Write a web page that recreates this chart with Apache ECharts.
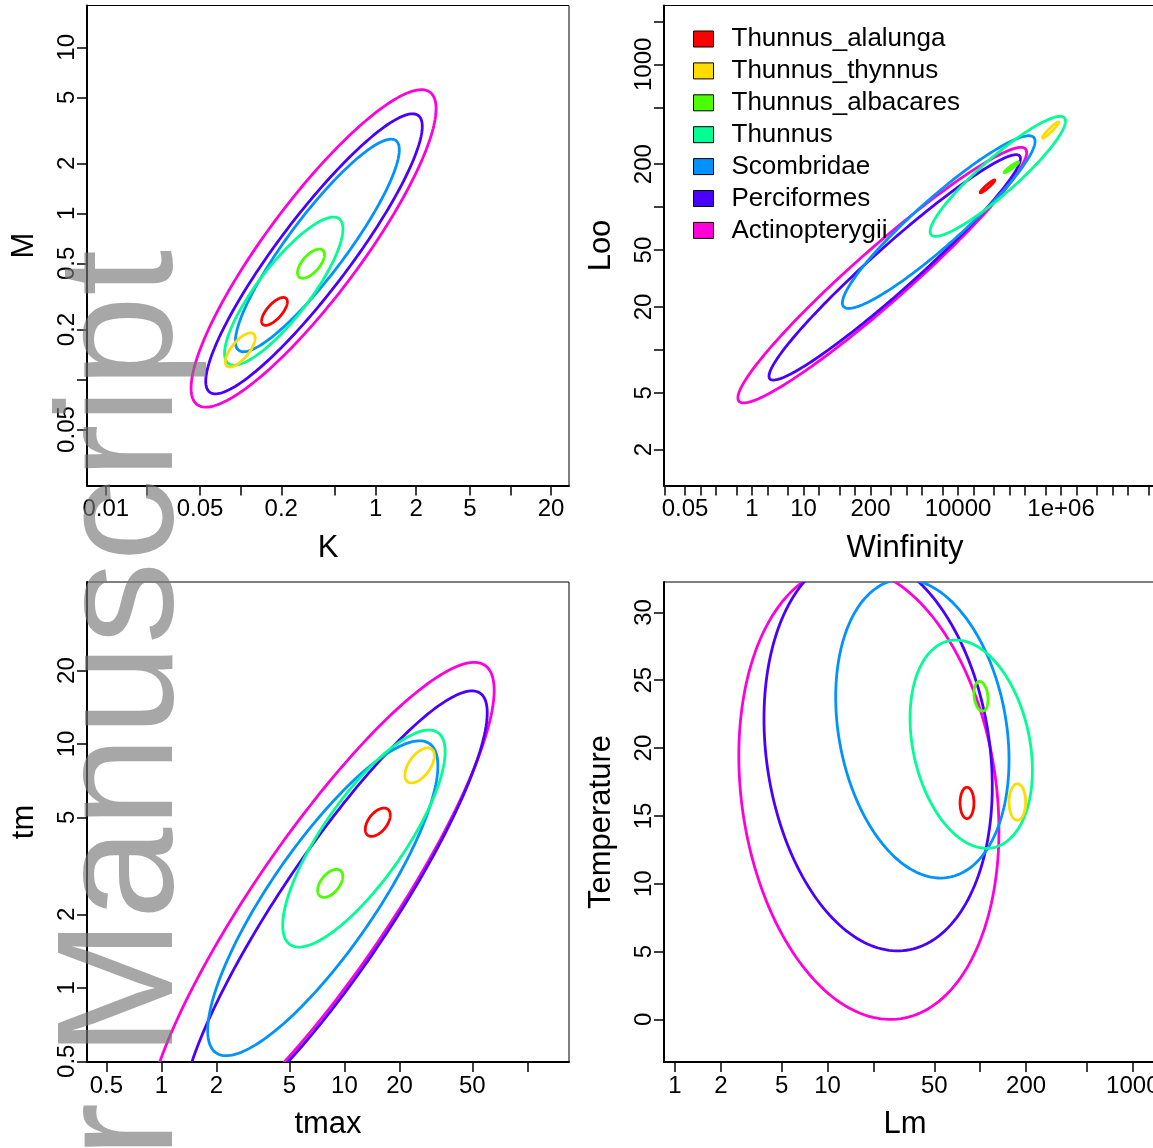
<!DOCTYPE html>
<html>
<head>
<meta charset="utf-8">
<script src="https://cdn.jsdelivr.net/npm/echarts@6/dist/echarts.min.js"></script>
<style>
  html, body { margin: 0; padding: 0; background: #fff; }
  #chart { width: 1153px; height: 1148px; }
</style>
</head>
<body>
<div id="chart"></div>
<script>
// groups in legend order, colours are R rainbow(7)
const groups = ['Thunnus_alalunga', 'Thunnus_thynnus', 'Thunnus_albacares', 'Thunnus', 'Scombridae', 'Perciformes', 'Actinopterygii'];
const colors = ['#FF0000', '#FFDB00', '#49FF00', '#00FF92', '#0092FF', '#4900FF', '#FF00DB'];

// one ellipse per group: [xLow, xHigh, yLow, yHigh, correlation]
const kM = [
  [0.143, 0.222, 0.212, 0.312, 0.69],
  [0.077, 0.128, 0.119, 0.191, 0.70],
  [0.264, 0.418, 0.407, 0.610, 0.62],
  [0.076, 0.573, 0.122, 0.951, 0.84],
  [0.0914, 1.50, 0.147, 2.80, 0.90],
  [0.0551, 2.22, 0.082, 3.98, 0.91],
  [0.0429, 2.81, 0.0682, 5.56, 0.88]
];
const winfLoo = [
  [27000, 51900, 126, 155, 0.95],
  [4.36e5, 9.06e5, 304, 395, 0.95],
  [78200, 1.50e5, 174, 207, 0.95],
  [2870, 1.22e6, 62.4, 432, 0.92],
  [56.9, 3.13e5, 19.5, 316, 0.935],
  [2.14, 1.63e5, 6.14, 233, 0.965],
  [0.532, 2.15e5, 4.25, 262, 0.96]
];
const tmaxTm = [
  [13.0, 17.8, 4.18, 5.46, 0.5],
  [21.4, 31.0, 6.92, 9.64, 0.55],
  [7.14, 9.79, 2.35, 3.06, 0.5],
  [4.60, 35.5, 1.47, 11.4, 0.8],
  [1.79, 32.4, 0.527, 10.3, 0.84],
  [1.30, 60.3, 0.262, 16.5, 0.9],
  [0.828, 65.8, 0.216, 21.6, 0.885]
];
const lmTemp = [
  [73.8, 91.0, 14.80, 17.11, 0],
  [154.5, 198.6, 14.68, 17.36, 0],
  [91.0, 112.5, 22.72, 24.91, -0.2],
  [34.7, 219.8, 12.61, 27.96, -0.25],
  [11.3, 154.5, 10.42, 32.46, -0.21],
  [3.83, 120, 5.05, 34.29, -0.17],
  [2.62, 132.7, 0, 33.36, -0.165]
];

// ticks and labels
const kTicks = [0.01, 0.02, 0.05, 0.1, 0.2, 0.5, 1, 2, 5, 10, 20];
const kLabels = ['0.01', '0.05', '0.2', '1', '2', '5', '20'];
const mTicks = [0.05, 0.1, 0.2, 0.5, 1, 2, 5, 10];
const mLabels = ['0.05', '0.2', '0.5', '1', '2', '5', '10'];
const winfTicks = [0.02, 0.05, 0.1, 0.2, 0.5, 1, 2, 5, 10, 20, 50, 100, 200, 500, 1000, 2000, 5000,
  1e4, 2e4, 5e4, 1e5, 2e5, 5e5, 1e6, 2e6, 5e6, 1e7, 2e7, 5e7];
const winfLabels = ['0.05', '1', '10', '200', '10000', '1e+06'];
const looTicks = [2, 5, 10, 20, 50, 100, 200, 500, 1000, 2000];
const looLabels = ['2', '5', '20', '50', '200', '1000'];
const tmaxTicks = [0.5, 1, 2, 5, 10, 20, 50, 100];
const tmaxLabels = ['0.5', '1', '2', '5', '10', '20', '50'];
const tmTicks = [0.5, 1, 2, 5, 10, 20];
const tmLabels = ['0.5', '1', '2', '5', '10', '20'];
const lmTicks = [1, 2, 5, 10, 20, 50, 100, 200, 500, 1000];
const lmLabels = ['1', '2', '5', '10', '50', '200', '1000'];
const tempTicks = [0, 5, 10, 15, 20, 25, 30];
const tempLabels = ['0', '5', '10', '15', '20', '25', '30'];

const FONT = 'Liberation Sans, Arial, Helvetica, sans-serif';

const lg = Math.log10;
const logBoth = r => [lg(r[0]), lg(r[1]), lg(r[2]), lg(r[3]), r[4]];
const logX = r => [lg(r[0]), lg(r[1]), r[2], r[3], r[4]];

function makeAxis(gridIndex, isY, min, max, ticks, labels, name, isLog, namePad) {
  const tv = isLog ? ticks.map(lg) : ticks;
  const lv = labels.map(s => isLog ? lg(Number(s)) : Number(s));
  return {
    type: 'value',
    gridIndex: gridIndex,
    position: isY ? 'left' : 'bottom',
    min: min,
    max: max,
    name: name,
    nameLocation: 'middle',
    nameGap: 47,
    nameTextStyle: { fontSize: 31, color: '#000', fontFamily: FONT, padding: namePad || 0 },
    axisLine: { show: true, onZero: false, lineStyle: { color: '#000', width: 2 } },
    axisTick: { show: true, length: 10, customValues: tv, lineStyle: { color: '#000', width: 1.5 } },
    axisLabel: {
      customValues: lv,
      rotate: isY ? 90 : 0,
      margin: isY ? 8 : 12,
      fontSize: 24,
      color: '#000',
      fontFamily: FONT,
      formatter: function (v) {
        let best = labels[0], d = Infinity;
        labels.forEach((s, i) => {
          const e = Math.abs(lv[i] - v);
          if (e < d) { d = e; best = s; }
        });
        return best;
      }
    },
    splitLine: { show: false }
  };
}

function renderEllipse(params, api) {
  const x0 = api.value(0), x1 = api.value(1), y0 = api.value(2), y1 = api.value(3), rho = api.value(4);
  const cu = (x0 + x1) / 2, hu = (x1 - x0) / 2;
  const cv = (y0 + y1) / 2, hv = (y1 - y0) / 2;
  const phi = Math.acos(rho);
  const pts = [];
  const n = 200;
  for (let i = 0; i < n; i++) {
    const t = i / n * 2 * Math.PI;
    pts.push(api.coord([cu + hu * Math.cos(t), cv + hv * Math.cos(t - phi)]));
  }
  return {
    type: 'polygon',
    shape: { points: pts },
    style: { fill: 'none', stroke: api.visual('color'), lineWidth: 2.8 }
  };
}

const panels = [
  { rows: kM.map(logBoth) },
  { rows: winfLoo.map(logBoth) },
  { rows: tmaxTm.map(logBoth) },
  { rows: lmTemp.map(logX) }
];

const series = [];
panels.forEach((p, gi) => {
  // draw the widest ellipses first
  for (let i = groups.length - 1; i >= 0; i--) {
    series.push({
      type: 'custom',
      name: groups[i],
      xAxisIndex: gi,
      yAxisIndex: gi,
      clip: true,
      itemStyle: { color: colors[i] },
      encode: { x: [0, 1], y: [2, 3] },
      renderItem: renderEllipse,
      data: [p.rows[i]],
      silent: true
    });
  }
});

const gridBase = { show: true, borderColor: '#000', borderWidth: 1, outerBoundsMode: 'none', containLabel: false };

const chart = echarts.init(document.getElementById('chart'), null, { renderer: 'canvas' });
chart.setOption({
  animation: false,
  backgroundColor: '#fff',
  grid: [
    Object.assign({ left: 87, top: 5.5, width: 482, height: 480 }, gridBase),
    Object.assign({ left: 664, top: 5.5, width: 492, height: 480 }, gridBase),
    Object.assign({ left: 87, top: 582, width: 482, height: 480 }, gridBase),
    Object.assign({ left: 664, top: 582, width: 492, height: 480 }, gridBase)
  ],
  xAxis: [
    makeAxis(0, false, -2.139, 1.434, kTicks, kLabels, 'K', true),
    makeAxis(1, false, -1.709, 7.844, winfTicks, winfLabels, 'Winfinity', true, [0, 10, 0, 0]),
    makeAxis(2, false, -0.4066, 2.227, tmaxTicks, tmaxLabels, 'tmax', true),
    makeAxis(3, false, -0.072, 3.152, lmTicks, lmLabels, 'Lm', true, [0, 10, 0, 0])
  ],
  yAxis: [
    makeAxis(0, true, -1.638, 1.252, mTicks, mLabels, 'M', true),
    makeAxis(1, true, 0.050, 3.412, looTicks, looLabels, 'Loo', true),
    makeAxis(2, true, -0.304, 1.664, tmTicks, tmLabels, 'tm', true),
    makeAxis(3, true, -3.14, 32.24, tempTicks, tempLabels, 'Temperature', false)
  ],
  legend: {
    data: groups,
    orient: 'vertical',
    left: 688,
    top: 21,
    itemWidth: 20,
    itemHeight: 16,
    itemGap: 5.9,
    icon: 'rect',
    selectedMode: false,
    itemStyle: { borderColor: '#000', borderWidth: 1 },
    textStyle: { fontSize: 26, color: '#000', fontFamily: FONT, padding: [0, 0, 0, 13] }
  },
  graphic: [
    {
      type: 'text',
      x: 126,
      y: 250,
      rotation: Math.PI / 2,
      z: 100,
      silent: true,
      style: {
        text: 'Author Manuscript',
        fontSize: 165,
        fontFamily: FONT,
        fill: 'rgba(120,120,120,0.65)',
        textAlign: 'right',
        textVerticalAlign: 'middle'
      }
    }
  ],
  series: series
});
</script>
</body>
</html>
